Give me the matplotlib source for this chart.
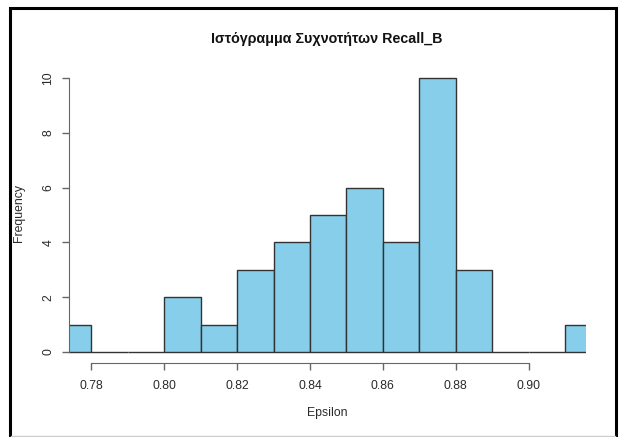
import matplotlib
matplotlib.use("Agg")
import matplotlib.pyplot as plt
from matplotlib.lines import Line2D

# Histogram data: bin edges (width 0.01) and counts per bin
bin_edges = [0.77, 0.78, 0.79, 0.80, 0.81, 0.82, 0.83, 0.84, 0.85,
             0.86, 0.87, 0.88, 0.89, 0.90, 0.91, 0.92]
counts = [1, 0, 0, 2, 1, 3, 4, 5, 6, 4, 10, 3, 0, 0, 1]
x_ticks = [0.78, 0.80, 0.82, 0.84, 0.86, 0.88, 0.90]
x_tick_labels = ["0.78", "0.80", "0.82", "0.84", "0.86", "0.88", "0.90"]
y_ticks = [0, 2, 4, 6, 8, 10]
title = "Ιστόγραμμα Συχνοτήτων Recall_B"
xlabel = "Epsilon"
ylabel = "Frequency"

plt.rcParams["font.family"] = ["Liberation Sans", "DejaVu Sans"]

W, H = 626, 437
fig = plt.figure(figsize=(W / 100, H / 100), dpi=100)
ax = fig.add_axes([68.5 / W, 1 - 363 / H, (585.7 - 68.5) / W, (363 - 67) / H])

lefts = bin_edges[:-1]
widths = [b - a for a, b in zip(bin_edges[:-1], bin_edges[1:])]
ax.bar(lefts, counts, width=widths, align="edge", color="#87CEEB",
       edgecolor="#333333", linewidth=1.0)

ax.set_xlim(0.7737, 0.9157)
ax.set_ylim(-0.4, 10.4)

axis_col = "#666666"
for s in ("top", "right"):
    ax.spines[s].set_visible(False)
ax.spines["left"].set_bounds(0, 10)
ax.spines["bottom"].set_bounds(0.78, 0.90)
ax.spines["left"].set_color(axis_col)
ax.spines["bottom"].set_color(axis_col)

ax.set_xticks(x_ticks)
ax.set_xticklabels(x_tick_labels)
ax.set_yticks(y_ticks)
ax.set_yticklabels([str(v) for v in y_ticks], rotation=90, va="center")
ax.tick_params(axis="both", length=5, width=1, color=axis_col,
               labelsize=8.8, labelcolor="#2a2a2a")
ax.tick_params(axis="x", pad=7.5)
ax.tick_params(axis="y", pad=5)

fig.text(327 / W, 1 - 39 / H, title, ha="center", va="center",
         fontsize=10.3, fontweight="bold", color="#111111")
fig.text(327 / W, 1 - 413 / H, xlabel, ha="center", va="center",
         fontsize=8.8, color="#2a2a2a")
fig.text(19 / W, 1 - 213 / H, ylabel, ha="center", va="center",
         rotation=90, fontsize=8.8, color="#2a2a2a")

# Outer frame: black on left, top and right, light gray along the bottom
def fx(px):
    return px / W

def fy(py):
    return 1 - py / H

fig.add_artist(Line2D([fx(10), fx(10), fx(616), fx(616)],
                      [fy(437), fy(8), fy(8), fy(437)],
                      transform=fig.transFigure, color="black",
                      linewidth=2.2, solid_joinstyle="miter"))
fig.add_artist(Line2D([fx(11), fx(615)], [fy(435.5), fy(435.5)],
                      transform=fig.transFigure, color="#cccccc", linewidth=1))

fig.savefig("out.png", dpi=100, facecolor="white")
